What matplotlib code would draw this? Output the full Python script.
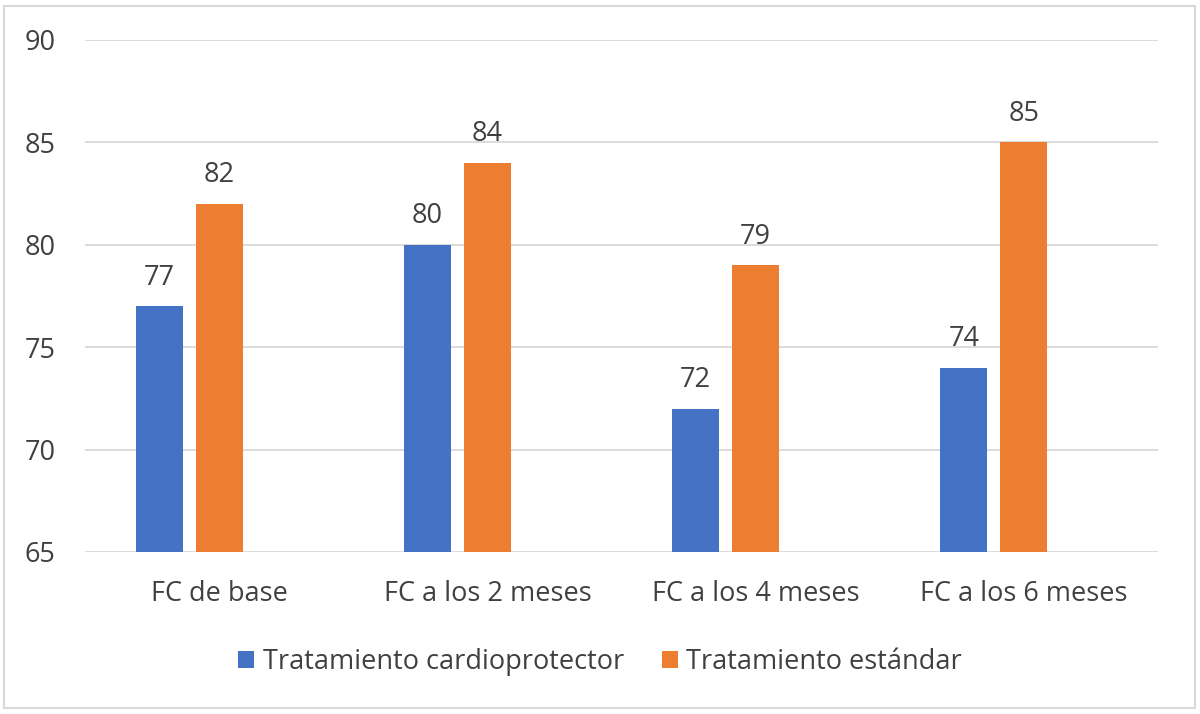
import matplotlib
matplotlib.use("Agg")
import matplotlib.pyplot as plt
from matplotlib.patches import Rectangle
import numpy as np

categories = ["FC de base", "FC a los 2 meses", "FC a los 4 meses", "FC a los 6 meses"]
series_names = ["Tratamiento cardioprotector", "Tratamiento estándar"]
cardio = [77, 80, 72, 74]
estandar = [82, 84, 79, 85]
yticks = [65, 70, 75, 80, 85, 90]

plt.rcParams['font.family'] = ['Open Sans', 'DejaVu Sans']
txt = '#404040'
fs = 19.5

fig = plt.figure(figsize=(12, 7.14), dpi=100)
ax = fig.add_axes([85/1200, 1-552/714, (1158-85)/1200, (552-40)/714])

x = np.arange(len(categories))
w = 47/268
off = 60/268
b1 = ax.bar(x - off, cardio, width=w, color='#4472C4', label=series_names[0], zorder=3)
b2 = ax.bar(x, estandar, width=w, color='#ED7D31', label=series_names[1], zorder=3)
for bars, vals in ((b1, cardio), (b2, estandar)):
    for r, v in zip(bars, vals):
        ax.annotate(str(v), (r.get_x() + r.get_width()/2, v), xytext=(0, 10.5),
                    textcoords='offset points', ha='center', va='bottom',
                    fontsize=fs, color=txt)

ax.set_ylim(65, 90)
ax.set_xlim(-0.5, 3.5)
ax.set_yticks(yticks)
ax.set_xticks(x)
ax.set_xticklabels(categories)
ax.yaxis.grid(True, color='#d9d9d9', linewidth=1.3, zorder=0)
for s in ax.spines.values():
    s.set_visible(False)
ax.tick_params(axis='both', length=0, labelsize=fs, colors=txt)
ax.tick_params(axis='x', pad=20)
ax.tick_params(axis='y', pad=21)

leg = fig.legend(handles=[b1, b2], labels=series_names, loc='center', bbox_to_anchor=(0.5, 1-662/714),
                 ncol=2, frameon=False, fontsize=fs, labelcolor=txt, handlelength=0.6,
                 handleheight=0.6, handletextpad=0.3, columnspacing=1.4)

fig.patches.append(Rectangle((4/1200, 6/714), 1191/1200, 702/714, transform=fig.transFigure,
                             fill=False, edgecolor='#d9d9d9', linewidth=1.5))
fig.savefig("out.png", dpi=100)
